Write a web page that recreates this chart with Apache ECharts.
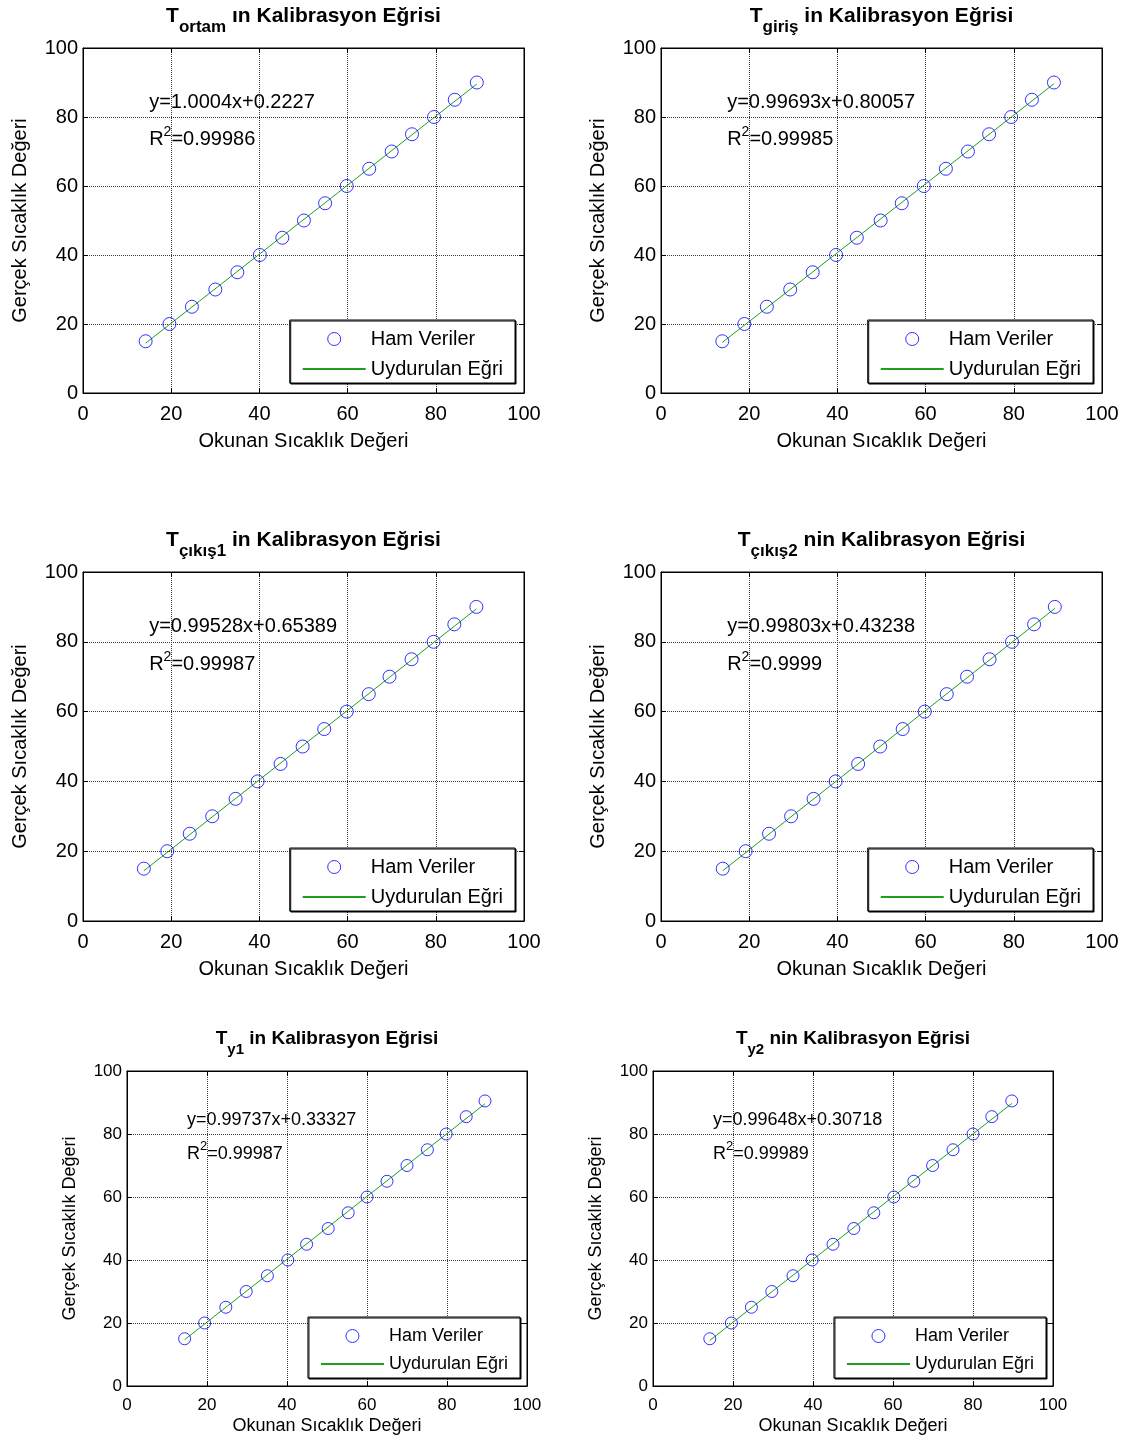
<!DOCTYPE html>
<html>
<head>
<meta charset="utf-8">
<title>Kalibrasyon Eğrileri</title>
<script src="https://cdn.jsdelivr.net/npm/echarts@6/dist/echarts.min.js"></script>
<style>
  html, body { margin: 0; padding: 0; background: #ffffff; }
  #chart { width: 1136px; height: 1441px; }
</style>
</head>
<body>
<div id="chart"></div>
<script>
// Reference (true) temperatures of the calibration bath
const trueTempsA = [15, 20, 25, 30, 35, 40, 45, 50, 55, 60, 65, 70, 75, 80, 85, 90];
const trueTempsB = [15, 20, 25, 30, 35, 40, 45, 50, 55, 60, 65, 70, 75, 80, 85.5, 90.5];

// Sensor readings for each thermocouple
const readOrtam  = [14.2, 19.6, 24.7, 30.0, 35.0, 40.1, 45.2, 50.1, 54.9, 59.8, 64.9, 70.0, 74.6, 79.6, 84.3, 89.3];
const readGiris  = [13.9, 18.9, 24.0, 29.3, 34.4, 39.7, 44.4, 49.8, 54.6, 59.6, 64.6, 69.6, 74.4, 79.4, 84.1, 89.1];
const readCikis1 = [13.8, 19.1, 24.2, 29.3, 34.6, 39.6, 44.8, 49.8, 54.7, 59.8, 64.8, 69.5, 74.5, 79.5, 84.2, 89.2];
const readCikis2 = [14.0, 19.2, 24.5, 29.5, 34.6, 39.6, 44.7, 49.7, 54.8, 59.8, 64.8, 69.4, 74.5, 79.6, 84.6, 89.3];
const readY1     = [14.4, 19.4, 24.7, 29.8, 35.1, 40.2, 44.9, 50.3, 55.3, 60.0, 65.0, 70.0, 75.1, 79.8, 84.8, 89.5];
const readY2     = [14.2, 19.6, 24.6, 29.7, 35.0, 39.8, 45.0, 50.2, 55.2, 60.2, 65.2, 69.9, 75.0, 80.0, 84.7, 89.7];

// Linear fit results (y = slope*x + intercept) and R^2
const fitSlopes     = [1.0004, 0.99693, 0.99528, 0.99803, 0.99737, 0.99648];
const fitIntercepts = [0.2227, 0.80057, 0.65389, 0.43238, 0.33327, 0.30718];
const fitR2         = [0.99986, 0.99985, 0.99987, 0.9999, 0.99987, 0.99989];

// Title pieces
const sensorSubscripts = ['ortam', 'giriş', 'çıkış1', 'çıkış2', 'y1', 'y2'];
const titleSuffixes    = ['ın', 'in', 'in', 'nin', 'in', 'nin'];

// Axis texts
const axisTicks = [0, 20, 40, 60, 80, 100];
const xAxisName = 'Okunan Sıcaklık Değeri';
const yAxisName = 'Gerçek Sıcaklık Değeri';
const legendNames = ['Ham Veriler', 'Uydurulan Eğri'];

const readings = [readOrtam, readGiris, readCikis1, readCikis2, readY1, readY2];
const trueSets = [trueTempsA, trueTempsA, trueTempsA, trueTempsA, trueTempsB, trueTempsB];

// Page layout of the six axes boxes (pixels) and their font sizes
const layout = [
  { left: 83,  top: 48,   width: 441, height: 345, fs: 20, tfs: 21, subfs: 17, afs: 20, supfs: 14, legGap: 30 },
  { left: 661, top: 48,   width: 441, height: 345, fs: 20, tfs: 21, subfs: 17, afs: 20, supfs: 14, legGap: 30 },
  { left: 83,  top: 572,  width: 441, height: 349, fs: 20, tfs: 21, subfs: 17, afs: 20, supfs: 14, legGap: 30 },
  { left: 661, top: 572,  width: 441, height: 349, fs: 20, tfs: 21, subfs: 17, afs: 20, supfs: 14, legGap: 30 },
  { left: 127, top: 1071, width: 400, height: 315, fs: 17, tfs: 19, subfs: 15, afs: 18, supfs: 13, legGap: 28 },
  { left: 653, top: 1071, width: 400, height: 315, fs: 17, tfs: 19, subfs: 15, afs: 18, supfs: 13, legGap: 28 }
];

const FONT = '"Liberation Sans", Arial, Helvetica, sans-serif';
const CHART_W = 1136;
const minV = axisTicks[0], maxV = axisTicks[axisTicks.length - 1];
const step = axisTicks[1] - axisTicks[0];
const FIT_GREEN = '#1f9e1f';

const chart = echarts.init(document.getElementById('chart'), null, { renderer: 'canvas' });

const grid = [], xAxis = [], yAxis = [], series = [], legend = [], graphic = [];

function toPx(box, xv, yv) {
  return [box.left + (xv - minV) / (maxV - minV) * box.width,
          box.top + (1 - (yv - minV) / (maxV - minV)) * box.height];
}

layout.forEach((box, i) => {
  const fs = box.fs;
  grid.push({
    left: box.left, top: box.top, width: box.width, height: box.height,
    show: true, borderColor: '#000', borderWidth: 1, backgroundColor: 'transparent'
  });

  const tickStyle = { show: true, inside: true, length: 5, lineStyle: { color: '#000', width: 1 } };
  const lineStyle = { show: true, onZero: false, lineStyle: { color: '#000', width: 1 } };
  const gridLine = { show: true, lineStyle: { color: '#3a3a3a', width: 1, type: [1, 1] } };

  xAxis.push({
    gridIndex: i, type: 'value', min: minV, max: maxV, interval: step, position: 'bottom',
    axisLine: lineStyle, axisTick: tickStyle, splitLine: gridLine,
    axisLabel: { color: '#000', fontSize: fs, fontFamily: FONT, margin: 11 },
    name: xAxisName, nameLocation: 'middle', nameGap: i < 4 ? 38 : 31,
    nameTextStyle: { color: '#000', fontSize: box.afs, fontFamily: FONT }
  });
  xAxis.push({
    gridIndex: i, type: 'value', min: minV, max: maxV, interval: step, position: 'top',
    axisLine: lineStyle, axisTick: tickStyle, splitLine: { show: false }, axisLabel: { show: false }
  });
  yAxis.push({
    gridIndex: i, type: 'value', min: minV, max: maxV, interval: step, position: 'left',
    axisLine: lineStyle, axisTick: tickStyle, splitLine: gridLine,
    axisLabel: { color: '#000', fontSize: fs, fontFamily: FONT, margin: 5 },
    name: yAxisName, nameLocation: 'middle', nameGap: i < 4 ? 53 : 48,
    nameTextStyle: { color: '#000', fontSize: box.afs, fontFamily: FONT }
  });
  yAxis.push({
    gridIndex: i, type: 'value', min: minV, max: maxV, interval: step, position: 'right',
    axisLine: lineStyle, axisTick: tickStyle, splitLine: { show: false }, axisLabel: { show: false }
  });

  const xs = readings[i], ys = trueSets[i];
  const pts = xs.map((x, k) => [x, ys[k]]);
  series.push({
    name: legendNames[0], type: 'scatter', xAxisIndex: 2 * i, yAxisIndex: 2 * i,
    data: pts, symbol: 'circle', symbolSize: i < 4 ? 13 : 12, z: 3,
    itemStyle: { color: 'rgba(0,0,0,0)', borderColor: '#0000ff', borderWidth: 1 }
  });

  // fitted line between the smallest and largest reading
  const a = fitSlopes[i], b = fitIntercepts[i];
  const x0 = Math.min(...xs), x1 = Math.max(...xs);
  series.push({
    name: legendNames[1], type: 'line', xAxisIndex: 2 * i, yAxisIndex: 2 * i,
    data: [[x0, a * x0 + b], [x1, a * x1 + b]], symbol: 'none', showSymbol: false, z: 2,
    itemStyle: { color: FIT_GREEN },
    lineStyle: { color: FIT_GREEN, width: 1 }
  });

  legend.push({
    data: [
      { name: legendNames[0] },
      { name: legendNames[1], itemStyle: { color: 'rgba(0,0,0,0)', borderWidth: 0, opacity: 0 } }
    ],
    orient: 'vertical', selectedMode: false,
    right: CHART_W - (box.left + box.width - (i < 4 ? 9 : 7)),
    top: box.top + box.height - (i < 4 ? 73 : 69),
    itemWidth: 63, itemHeight: 13, itemGap: box.legGap - 22,
    padding: [8, 12, 3, 12],
    backgroundColor: '#ffffff', borderColor: '#000', borderWidth: 1,
    shadowColor: '#000', shadowOffsetX: 1, shadowOffsetY: 1, shadowBlur: 0,
    itemStyle: { borderWidth: 1 },
    textStyle: { color: '#000', fontSize: box.afs, fontFamily: FONT, lineHeight: 22 }
  });

  // title: T with subscript sensor name
  const cx = box.left + box.width / 2;
  const ty = box.top - 42;
  graphic.push({
    type: 'text', x: cx, y: ty, z: 10,
    style: {
      text: '{t|T}{s|' + sensorSubscripts[i] + '}{m| ' + titleSuffixes[i] + ' Kalibrasyon Eğrisi}',
      align: 'center', verticalAlign: 'top',
      rich: {
        t: { fontFamily: FONT, fontSize: box.tfs, fontWeight: 'bold', fill: '#000', lineHeight: 24, verticalAlign: 'top' },
        s: { fontFamily: FONT, fontSize: box.subfs, fontWeight: 'bold', fill: '#000', lineHeight: 18, padding: [13, 0, 0, 0], verticalAlign: 'top' },
        m: { fontFamily: FONT, fontSize: box.tfs, fontWeight: 'bold', fill: '#000', lineHeight: 24, verticalAlign: 'top' }
      }
    }
  });

  // fit equation and R^2 written inside the axes
  const eqPos = toPx(box, 15, 84.3);
  graphic.push({
    type: 'text', x: eqPos[0], y: eqPos[1], z: 10,
    style: {
      text: 'y=' + a + 'x+' + b, fill: '#000', fontFamily: FONT, fontSize: box.afs,
      align: 'left', verticalAlign: 'middle'
    }
  });
  const rPos = toPx(box, 15, 74);
  graphic.push({
    type: 'text', x: rPos[0], y: rPos[1] - 13, z: 10,
    style: {
      text: '{n|R}{p|2}{n|=' + fitR2[i] + '}',
      align: 'left', verticalAlign: 'top',
      rich: {
        n: { fontFamily: FONT, fontSize: box.afs, fill: '#000', lineHeight: 20, padding: [5, 0, 0, 0], verticalAlign: 'top' },
        p: { fontFamily: FONT, fontSize: box.supfs, fill: '#000', lineHeight: 14, verticalAlign: 'top' }
      }
    }
  });
});

chart.setOption({
  animation: false,
  backgroundColor: '#ffffff',
  grid, xAxis, yAxis, series, legend, graphic
});
</script>
</body>
</html>
